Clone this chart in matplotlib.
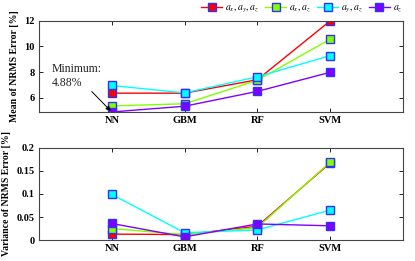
import matplotlib
matplotlib.use("Agg")
import matplotlib.pyplot as plt

categories = ["NN", "GBM", "RF", "SVM"]
labels = [r"$a_x, a_y, a_z$", r"$a_x, a_z$", r"$a_y, a_z$", r"$a_z$"]
mean_axayaz = [6.35, 6.35, 7.40, 12.0]
mean_axaz = [5.35, 5.52, 7.36, 10.57]
mean_ayaz = [6.95, 6.37, 7.63, 9.28]
mean_az = [4.88, 5.33, 6.49, 7.98]
var_axayaz = [0.013, 0.012, 0.030, 0.167]
var_axaz = [0.025, 0.012, 0.027, 0.169]
var_ayaz = [0.099, 0.016, 0.022, 0.065]
var_az = [0.036, 0.007, 0.035, 0.031]
colors = ["#ff0000", "#80ff00", "#00ffff", "#8000ff"]

plt.rcParams['font.family'] = ['Liberation Serif', 'DejaVu Serif']
plt.rcParams['mathtext.fontset'] = 'stix'

fig = plt.figure(figsize=(4.15, 2.61), dpi=100)
ax1 = fig.add_axes([0.094, 0.571, 0.877, 0.349])
ax2 = fig.add_axes([0.094, 0.080, 0.877, 0.354])

x = [1, 2, 3, 4]
means = [mean_axayaz, mean_axaz, mean_ayaz, mean_az]
vars_ = [var_axayaz, var_axaz, var_ayaz, var_az]
handles = []
for vals, c, lab in zip(means, colors, labels):
    h, = ax1.plot(x, vals, '-', color=c, lw=1.0, marker='s', ms=6,
                  mfc=c, mec='#3030ff', mew=1.0, label=lab)
    handles.append(h)
for vals, c in zip(vars_, colors):
    ax2.plot(x, vals, '-', color=c, lw=1.0, marker='s', ms=6,
             mfc=c, mec='#3030ff', mew=1.0)

for ax in (ax1, ax2):
    ax.set_xlim(0, 5)
    ax.set_xticks(x)
    ax.set_xticklabels(categories, fontweight='bold', fontsize=7.5)
    ax.tick_params(direction='in', top=True, right=True, length=3, width=0.6, labelsize=7.5, pad=3)
    for s in ax.spines.values():
        s.set_linewidth(0.8)
        s.set_color('#444444')

ax1.set_ylim(4.88, 12)
ax1.set_yticks([6, 8, 10, 12])
ax1.set_yticklabels(["6", "8", "10", "12"], fontweight='bold')
ax1.set_ylabel("Mean of NRMS Error [%]", fontweight='bold', fontsize=7, labelpad=4)

ax2.set_ylim(0, 0.2)
ax2.set_yticks([0, 0.05, 0.1, 0.15, 0.2])
ax2.set_yticklabels(["0", "0.05", "0.1", "0.15", "0.2"], fontweight='bold')
ax2.set_ylabel("Variance of NRMS Error [%]", fontweight='bold', fontsize=7, labelpad=4)

ax1.annotate("Minimum:\n4.88%", xy=(1, 4.88), xytext=(0.17, 7.7),
             fontsize=8.5, ha='left', va='center', color='#222222',
             arrowprops=dict(arrowstyle='-|>', color='black', lw=0.7,
                             shrinkA=0, shrinkB=1, mutation_scale=7),
             annotation_clip=False)

fig.legend(handles=handles, loc='center right', bbox_to_anchor=(0.97, 0.965),
           ncol=4, frameon=False, fontsize=7, handlelength=2.2,
           handletextpad=0.3, columnspacing=0.6, markerscale=0.85,
           borderaxespad=0.0, borderpad=0.0)

fig.savefig("out.png", dpi=100)
